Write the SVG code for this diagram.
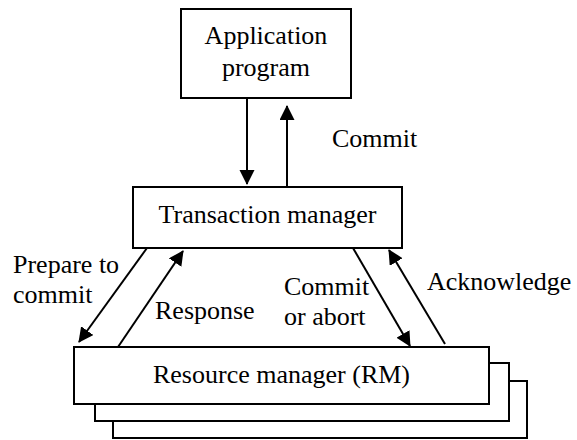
<svg xmlns="http://www.w3.org/2000/svg" width="577" height="440" viewBox="0 0 577 440">
  <style>
    .box { fill: #ffffff; stroke: #000000; stroke-width: 2; }
    .wire { stroke: #000000; stroke-width: 2; fill: none; }
  </style>
  <defs>
    <marker id="head" markerUnits="userSpaceOnUse" markerWidth="16" markerHeight="16" refX="14" refY="7.5" orient="auto">
      <path d="M0,0 L15,7.5 L0,15 z" fill="#000000"/>
    </marker>
  </defs>

  <rect width="577" height="440" fill="#ffffff"/>

  <g font-family="Liberation Serif, Times New Roman, DejaVu Serif, serif" font-size="26" fill="#000000">
    <g id="app">
      <rect class="box" x="181" y="9" width="170" height="89"/>
      <text x="266" y="44" text-anchor="middle">Application</text>
      <text x="266" y="76" text-anchor="middle">program</text>
    </g>

    <g id="tm">
      <rect class="box" x="133" y="187" width="269" height="61"/>
      <text x="267.5" y="223" text-anchor="middle">Transaction manager</text>
    </g>

    <g id="rm">
      <rect class="box" x="113" y="381" width="414" height="57"/>
      <rect class="box" x="95" y="363" width="414" height="58"/>
      <rect class="box" x="74" y="347" width="415" height="57"/>
      <text x="281.5" y="383" text-anchor="middle">Resource manager (RM)</text>
    </g>

    <g id="labels">
      <text x="332" y="147">Commit</text>
      <text x="13" y="273">Prepare to</text>
      <text x="13" y="303">commit</text>
      <text x="155" y="319">Response</text>
      <text x="284" y="295">Commit</text>
      <text x="284" y="325">or abort</text>
      <text x="427" y="290">Acknowledge</text>
    </g>
  </g>

  <g id="connectors">
    <line class="wire" x1="247" y1="98" x2="247" y2="184" marker-end="url(#head)"/>
    <line class="wire" x1="287" y1="187" x2="287" y2="106" marker-end="url(#head)"/>
    <line class="wire" x1="147" y1="248" x2="79" y2="342" marker-end="url(#head)"/>
    <line class="wire" x1="118" y1="347" x2="183" y2="251" marker-end="url(#head)"/>
    <line class="wire" x1="353" y1="248" x2="410" y2="346" marker-end="url(#head)"/>
    <line class="wire" x1="445" y1="344" x2="389" y2="250" marker-end="url(#head)"/>
  </g>
</svg>
